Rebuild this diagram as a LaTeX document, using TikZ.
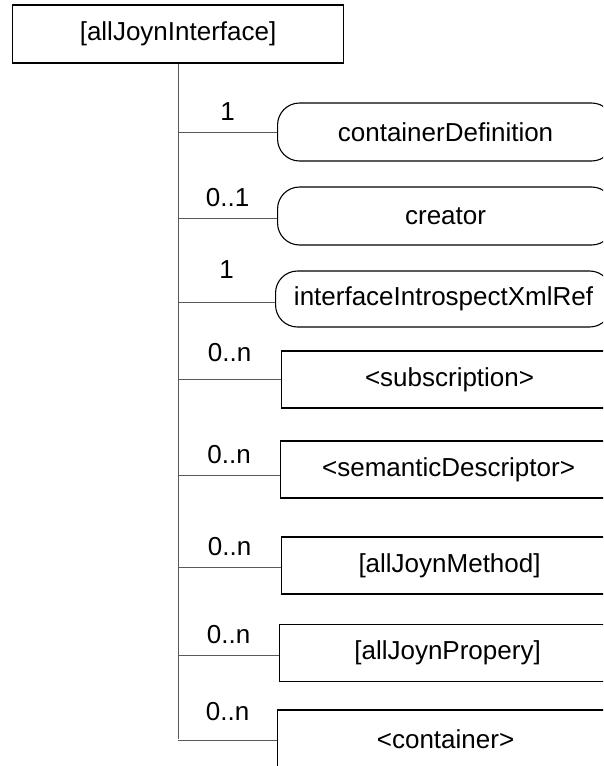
\documentclass[tikz,border=0pt]{standalone}
\usepackage{fontspec}
\setmainfont{Liberation Sans}

\begin{document}
\begin{tikzpicture}[x=1pt,y=-1pt,
    elem/.style={draw,line width=1.1pt,minimum height=57pt,minimum width=336pt,anchor=west,inner sep=0pt,font=\fontsize{26}{30}\selectfont},
    attr/.style={elem,rounded corners=22pt},
    link/.style={draw=black!65,line width=0.9pt},
    mult/.style={above=10pt,inner sep=1pt,font=\fontsize{26}{30}\selectfont}]
                \useasboundingbox (0,0) rectangle (603,766);
                \clip (0,0) rectangle (603,766);
                \node[elem,minimum width=331pt,minimum height=58pt] (iface) at (12,34) {[allJoynInterface]};
                \node[attr,minimum height=58pt] (cdef) at (277,132) {containerDefinition};
                \node[attr,minimum height=58pt] (creator) at (277,216) {creator};
                \node[attr,minimum height=56pt] (ixml) at (275,299) {interfaceIntrospectXmlRef};
                \node[elem] (subs) at (281,379.5) {<subscription>};
                \node[elem] (semdesc) at (280,469.5) {<semanticDescriptor>};
                \node[elem] (method) at (281,565.5) {[allJoynMethod]};
                \node[elem] (prop) at (279,653) {[allJoynPropery]};
                \node[elem,minimum height=58pt] (cont) at (277,739) {<container>};
                \draw[link] (iface.south) -- (iface.south |- cont.west);
                \draw[link] (iface.south |- cdef.west) -- (cdef.west) node[mult,midway]{1};
                \draw[link] ([yshift=-2pt]iface.south |- creator.west) -- ([yshift=-2pt]creator.west) node[mult,midway]{0..1};
                \draw[link] ([yshift=-3pt]iface.south |- ixml.west) -- ([yshift=-3pt]ixml.west) node[mult,midway,above=12pt]{1};
                \draw[link] (iface.south |- subs.west) -- (subs.west) node[mult,midway,above=6pt]{0..n};
                \draw[link] ([yshift=-6pt]iface.south |- semdesc.west) -- ([yshift=-6pt]semdesc.west) node[mult,midway]{0..n};
                \draw[link] ([yshift=-1.5pt]iface.south |- method.west) -- ([yshift=-1.5pt]method.west) node[mult,midway]{0..n};
                \draw[link] ([yshift=-2pt]iface.south |- prop.west) -- ([yshift=-2pt]prop.west) node[mult,midway]{0..n};
                \draw[link] ([yshift=-1pt]iface.south |- cont.west) -- ([yshift=-1pt]cont.west) node[mult,midway,above=8pt]{0..n};
\end{tikzpicture}
\end{document}
